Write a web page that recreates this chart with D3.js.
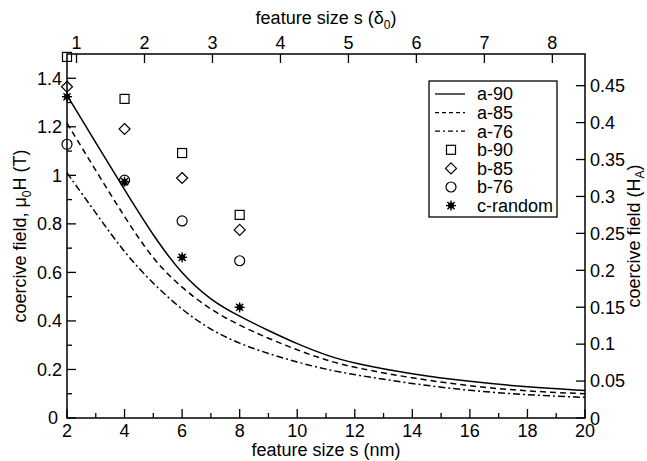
<!DOCTYPE html>
<html>
<head>
<meta charset="utf-8">
<script src="https://cdn.jsdelivr.net/npm/d3@7"></script>
<style>
  html, body { margin: 0; padding: 0; background: #fff; }
  svg { display: block; font-family: "Liberation Sans", Arial, sans-serif; }
</style>
</head>
<body>
<svg id="chart" width="647" height="461"></svg>
<script>
// curve data (feature size in nm, coercive field in T)
const sizeNm = [2, 3, 4, 5, 6, 7, 8, 9, 10, 11, 12, 14, 16, 18, 20];
const a90 = [1.33, 1.135, 0.94, 0.75, 0.59, 0.485, 0.418, 0.36, 0.305, 0.258, 0.224, 0.18, 0.15, 0.127, 0.113];
const a85 = [1.215, 1.02, 0.828, 0.65, 0.535, 0.445, 0.381, 0.328, 0.28, 0.238, 0.207, 0.164, 0.131, 0.11, 0.1];
const a76 = [1.01, 0.845, 0.68, 0.552, 0.445, 0.362, 0.306, 0.265, 0.23, 0.2, 0.178, 0.141, 0.112, 0.095, 0.085];

// symbol data
const markerNm = [2, 4, 6, 8];
const b90 = [1.488, 1.315, 1.092, 0.837];
const b85 = [1.365, 1.191, 0.989, 0.775];
const b76 = [1.128, 0.98, 0.812, 0.648];
const cRandom = [1.324, 0.974, 0.662, 0.456];

// ticks
const bottomTicks = [2, 4, 6, 8, 10, 12, 14, 16, 18, 20];
const bottomMinor = [3, 5, 7, 9, 11, 13, 15, 17, 19];
const leftTicks = [0, 0.2, 0.4, 0.6, 0.8, 1, 1.2, 1.4];
const leftMinor = [0.1, 0.3, 0.5, 0.7, 0.9, 1.1, 1.3];
const topTicks = [1, 2, 3, 4, 5, 6, 7, 8];
const rightTicks = [0, 0.05, 0.1, 0.15, 0.2, 0.25, 0.3, 0.35, 0.4, 0.45];

const svg = d3.select("#chart");
const L = 67, R = 585, T = 54, B = 418;

const x = d3.scaleLinear().domain([2, 20]).range([L, R]);
const y = d3.scaleLinear().domain([0, 1.5]).range([B, T]);
const xTop = d3.scaleLinear().domain([0.86, 8.48]).range([L, R]);
const yRight = d3.scaleLinear().domain([0, 0.4929]).range([B, T]);

const fs = 18;

// frame
svg.append("rect")
  .attr("x", L).attr("y", T)
  .attr("width", R - L).attr("height", B - T)
  .attr("fill", "none").attr("stroke", "#000").attr("stroke-width", 1.5);

let ticks = svg.append("g").attr("stroke", "#000").attr("stroke-width", 1.3);

bottomTicks.forEach((v) => {
  ticks.append("line").attr("x1", x(v)).attr("x2", x(v)).attr("y1", B).attr("y2", B - 9);
});
bottomMinor.forEach((v) => {
  ticks.append("line").attr("x1", x(v)).attr("x2", x(v)).attr("y1", B).attr("y2", B - 5);
});
leftTicks.forEach((v) => {
  ticks.append("line").attr("x1", L).attr("x2", L + 9).attr("y1", y(v)).attr("y2", y(v));
});
leftMinor.forEach((v) => {
  ticks.append("line").attr("x1", L).attr("x2", L + 5).attr("y1", y(v)).attr("y2", y(v));
});
topTicks.forEach((v) => {
  ticks.append("line").attr("x1", xTop(v)).attr("x2", xTop(v)).attr("y1", T).attr("y2", T + 9);
});
rightTicks.forEach((v) => {
  ticks.append("line").attr("x1", R).attr("x2", R - 9).attr("y1", yRight(v)).attr("y2", yRight(v));
});

let labels = svg.append("g").attr("font-size", fs).attr("fill", "#000");

bottomTicks.forEach((v) => {
  labels.append("text").attr("x", x(v)).attr("y", 437)
    .attr("text-anchor", "middle").text(v);
});
leftTicks.forEach((v) => {
  labels.append("text").attr("x", v === 0 ? 58 : 62).attr("y", y(v)).attr("dy", "0.35em")
    .attr("text-anchor", "end").text(v);
});
topTicks.forEach((v) => {
  labels.append("text").attr("x", xTop(v)).attr("y", 49)
    .attr("text-anchor", "middle").text(v);
});
rightTicks.forEach((v) => {
  labels.append("text").attr("x", 590).attr("y", v === 0 ? 419 : yRight(v)).attr("dy", "0.35em")
    .attr("text-anchor", "start").text(v);
});

// axis titles
labels.append("text").attr("x", (L + R) / 2).attr("y", 456)
  .attr("text-anchor", "middle").text("feature size s (nm)");

let topTitle = labels.append("text").attr("x", (L + R) / 2).attr("y", 24)
  .attr("text-anchor", "middle");
topTitle.append("tspan").text("feature size s (δ");
topTitle.append("tspan").attr("font-size", 12).attr("dy", 5).text("0");
topTitle.append("tspan").attr("dy", -5).text(")");

let leftTitle = labels.append("text")
  .attr("transform", `translate(26,${(T + B) / 2}) rotate(-90)`)
  .attr("text-anchor", "middle");
leftTitle.append("tspan").text("coercive field, μ");
leftTitle.append("tspan").attr("font-size", 12).attr("dy", 5).text("0");
leftTitle.append("tspan").attr("dy", -5).text("H (T)");

let rightTitle = labels.append("text")
  .attr("transform", `translate(640,${(T + B) / 2}) rotate(-90)`)
  .attr("text-anchor", "middle");
rightTitle.append("tspan").text("coercive field (H");
rightTitle.append("tspan").attr("font-size", 12).attr("dy", 4).text("A");
rightTitle.append("tspan").attr("dy", -4).text(")");

// curves
const lineStyles = [
  { name: "a-90", vals: a90, dash: null, legendDash: null },
  { name: "a-85", vals: a85, dash: "6,4", legendDash: "4,3" },
  { name: "a-76", vals: a76, dash: "7,3,2,3", legendDash: "5,3,2,3" },
];

let line = d3.line()
  .x((d) => x(d[0]))
  .y((d) => y(d[1]))
  .curve(d3.curveBasis);

lineStyles.forEach((s) => {
  svg.append("path")
    .datum(sizeNm.map((n, i) => [n, s.vals[i]]))
    .attr("d", line)
    .attr("fill", "none")
    .attr("stroke", "#000")
    .attr("stroke-width", 1.5)
    .attr("stroke-dasharray", s.dash);
});

// symbols
function drawSymbol(g, kind, cx, cy) {
  if (kind === "square") {
    g.append("rect").attr("x", cx - 4.5).attr("y", cy - 4.5).attr("width", 9).attr("height", 9)
      .attr("fill", "none").attr("stroke", "#000").attr("stroke-width", 1.2);
  } else if (kind === "diamond") {
    g.append("path")
      .attr("d", `M${cx},${cy - 5.5}L${cx + 5.5},${cy}L${cx},${cy + 5.5}L${cx - 5.5},${cy}Z`)
      .attr("fill", "none").attr("stroke", "#000").attr("stroke-width", 1.2);
  } else if (kind === "circle") {
    g.append("circle").attr("cx", cx).attr("cy", cy).attr("r", 5)
      .attr("fill", "none").attr("stroke", "#000").attr("stroke-width", 1.2);
  } else {
    [0, 45, 90, 135].forEach((a) => {
      let rad = (a * Math.PI) / 180;
      g.append("line")
        .attr("x1", cx - 5 * Math.cos(rad)).attr("y1", cy - 5 * Math.sin(rad))
        .attr("x2", cx + 5 * Math.cos(rad)).attr("y2", cy + 5 * Math.sin(rad))
        .attr("stroke", "#000").attr("stroke-width", 1.4);
    });
    g.append("circle").attr("cx", cx).attr("cy", cy).attr("r", 3).attr("fill", "#000");
  }
}

const symbolSeries = [
  { name: "b-90", vals: b90, kind: "square" },
  { name: "b-85", vals: b85, kind: "diamond" },
  { name: "b-76", vals: b76, kind: "circle" },
  { name: "c-random", vals: cRandom, kind: "star" },
];

let points = svg.append("g");
symbolSeries.forEach((s) => {
  markerNm.forEach((n, i) => drawSymbol(points, s.kind, x(n), y(s.vals[i])));
});

// legend
let legend = svg.append("g");
legend.append("rect")
  .attr("x", 429).attr("y", 81).attr("width", 128).attr("height", 136)
  .attr("fill", "#fff").attr("stroke", "#000").attr("stroke-width", 1.3);

const rowY = (i) => 94 + i * 18.6;

lineStyles.forEach((s, i) => {
  legend.append("line")
    .attr("x1", 435).attr("x2", 465).attr("y1", rowY(i)).attr("y2", rowY(i))
    .attr("stroke", "#000").attr("stroke-width", 1.3)
    .attr("stroke-dasharray", s.legendDash);
  legend.append("text").attr("x", 477).attr("y", rowY(i)).attr("dy", "0.35em")
    .attr("font-size", fs).text(s.name);
});
symbolSeries.forEach((s, j) => {
  let i = j + 3;
  drawSymbol(legend, s.kind, 451, rowY(i));
  legend.append("text").attr("x", 477).attr("y", rowY(i)).attr("dy", "0.35em")
    .attr("font-size", fs).text(s.name);
});
</script>
</body>
</html>
